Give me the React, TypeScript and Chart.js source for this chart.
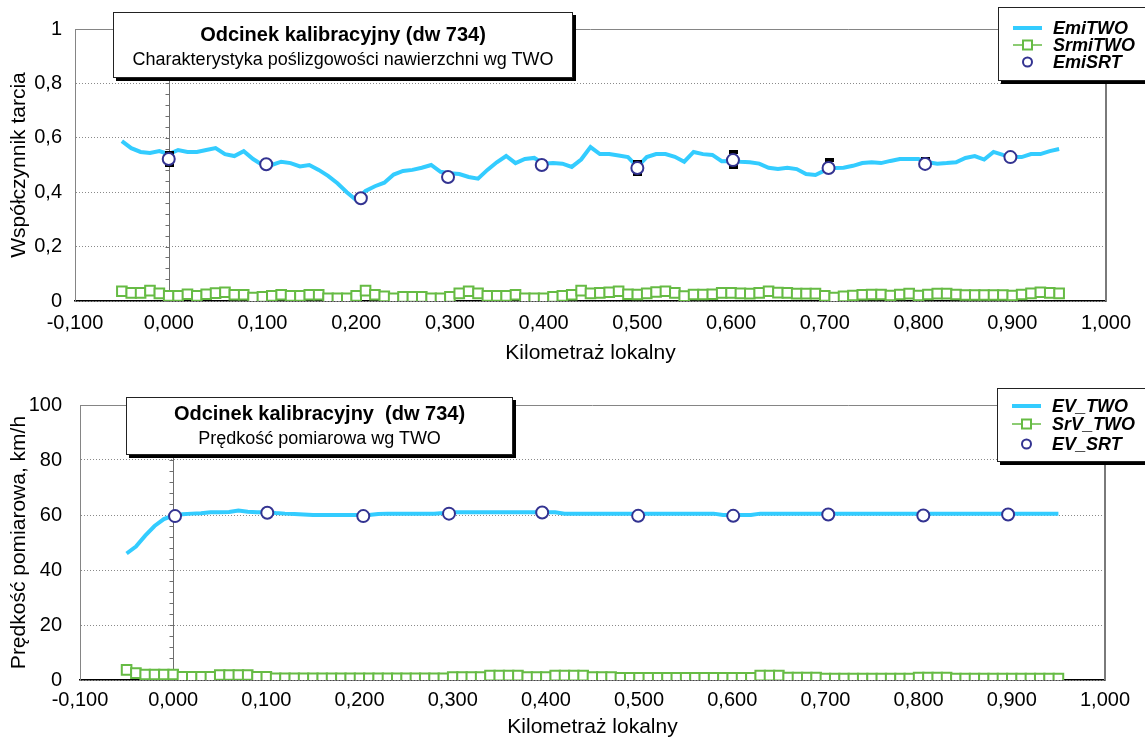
import React, { useEffect, useRef } from 'react';
import { Chart, registerables } from 'chart.js';
Chart.register(...registerables);

const FONT = "'Liberation Sans', Arial, Helvetica, sans-serif";
const CYAN = '#33CCFF';
const GREEN = '#66BB44';
const NAVY = '#333391';

// ---------- data ----------
const km = [
  -0.05, -0.04, -0.03, -0.02, -0.01, 0.0, 0.01, 0.02, 0.03, 0.04,
  0.05, 0.06, 0.07, 0.08, 0.09, 0.1, 0.11, 0.12, 0.13, 0.14,
  0.15, 0.16, 0.17, 0.18, 0.19, 0.2, 0.21, 0.22, 0.23, 0.24,
  0.25, 0.26, 0.27, 0.28, 0.29, 0.3, 0.31, 0.32, 0.33, 0.34,
  0.35, 0.36, 0.37, 0.38, 0.39, 0.4, 0.41, 0.42, 0.43, 0.44,
  0.45, 0.46, 0.47, 0.48, 0.49, 0.5, 0.51, 0.52, 0.53, 0.54,
  0.55, 0.56, 0.57, 0.58, 0.59, 0.6, 0.61, 0.62, 0.63, 0.64,
  0.65, 0.66, 0.67, 0.68, 0.69, 0.7, 0.71, 0.72, 0.73, 0.74,
  0.75, 0.76, 0.77, 0.78, 0.79, 0.8, 0.81, 0.82, 0.83, 0.84,
  0.85, 0.86, 0.87, 0.88, 0.89, 0.9, 0.91, 0.92, 0.93, 0.94,
  0.95,
];

const emiTWO = [
  0.588, 0.562, 0.548, 0.544, 0.551, 0.540, 0.555, 0.548, 0.548, 0.555,
  0.562, 0.540, 0.533, 0.551, 0.522, 0.500, 0.500, 0.512, 0.507, 0.495,
  0.500, 0.482, 0.460, 0.433, 0.400, 0.371, 0.405, 0.422, 0.435, 0.465,
  0.478, 0.482, 0.490, 0.500, 0.475, 0.470, 0.467, 0.456, 0.450, 0.482,
  0.510, 0.533, 0.507, 0.522, 0.526, 0.505, 0.507, 0.505, 0.493, 0.520,
  0.566, 0.540, 0.540, 0.535, 0.529, 0.493, 0.529, 0.540, 0.540, 0.530,
  0.512, 0.548, 0.540, 0.537, 0.514, 0.515, 0.512, 0.510, 0.505, 0.490,
  0.485, 0.490, 0.485, 0.467, 0.463, 0.480, 0.489, 0.490, 0.497, 0.507,
  0.510, 0.507, 0.515, 0.522, 0.522, 0.522, 0.510, 0.505, 0.507, 0.510,
  0.526, 0.533, 0.520, 0.548, 0.537, 0.529, 0.529, 0.540, 0.540, 0.551,
  0.559,
];

const srmiTWO = [
  0.036, 0.030, 0.030, 0.038, 0.028, 0.019, 0.019, 0.025, 0.019, 0.025,
  0.029, 0.032, 0.023, 0.023, 0.013, 0.015, 0.019, 0.023, 0.019, 0.019,
  0.023, 0.023, 0.010, 0.010, 0.010, 0.019, 0.038, 0.023, 0.017, 0.010,
  0.015, 0.015, 0.015, 0.010, 0.010, 0.015, 0.028, 0.036, 0.028, 0.019,
  0.019, 0.019, 0.023, 0.010, 0.010, 0.010, 0.015, 0.019, 0.023, 0.038,
  0.028, 0.030, 0.032, 0.036, 0.025, 0.024, 0.028, 0.033, 0.036, 0.030,
  0.018, 0.024, 0.024, 0.025, 0.030, 0.030, 0.028, 0.027, 0.030, 0.036,
  0.031, 0.030, 0.027, 0.027, 0.027, 0.019, 0.013, 0.017, 0.020, 0.023,
  0.024, 0.024, 0.020, 0.024, 0.027, 0.020, 0.024, 0.027, 0.027, 0.024,
  0.022, 0.022, 0.022, 0.022, 0.022, 0.020, 0.024, 0.028, 0.032, 0.030,
  0.028,
];

const kmSRT = [0.0, 0.104, 0.205, 0.298, 0.398, 0.5, 0.602, 0.704, 0.807, 0.898];
const emiSRT = [0.522, 0.503, 0.378, 0.456, 0.5, 0.489, 0.518, 0.489, 0.504, 0.529];
const emiSRTmax = [0.545, 0.51, 0.385, 0.465, 0.51, 0.511, 0.548, 0.518, 0.522, 0.535];
const emiSRTmin = [0.5, 0.495, 0.37, 0.45, 0.49, 0.467, 0.493, 0.48, 0.495, 0.52];

const evTWO = [
  46, 48.5, 52.5, 56, 58.5, 59.8, 60.3, 60.5, 60.6, 61,
  61, 61.1, 61.6, 61.2, 61, 61, 60.7, 60.5, 60.4, 60.2,
  60, 60, 60, 60, 60, 60, 60, 60.4, 60.5, 60.5,
  60.5, 60.5, 60.5, 60.5, 60.7, 61, 61, 61, 61, 61,
  61, 61, 61, 61, 61, 61, 61, 60.5, 60.5, 60.5,
  60.5, 60.5, 60.5, 60.5, 60.5, 60.5, 60.5, 60.5, 60.5, 60.5,
  60.5, 60.5, 60.5, 60.5, 60, 60, 60, 60, 60.5, 60.5,
  60.5, 60.5, 60.5, 60.5, 60.5, 60.5, 60.5, 60.5, 60.5, 60.5,
  60.5, 60.5, 60.5, 60.5, 60.5, 60.5, 60.5, 60.5, 60.5, 60.5,
  60.5, 60.5, 60.5, 60.5, 60.5, 60.5, 60.5, 60.5, 60.5, 60.5,
  60.5,
];

const srvTWO = [
  3.7, 2.5, 2.0, 2.0, 2.0, 2.0, 1.2, 1.2, 1.2, 1.2,
  1.8, 1.8, 1.8, 1.8, 1.2, 1.2, 0.6, 0.6, 0.6, 0.6,
  0.6, 0.6, 0.6, 0.6, 0.6, 0.6, 0.6, 0.6, 0.6, 0.6,
  0.6, 0.6, 0.6, 0.6, 0.6, 1.1, 1.1, 1.1, 1.1, 1.6,
  1.6, 1.6, 1.6, 1.1, 1.1, 1.1, 1.6, 1.6, 1.6, 1.6,
  1.1, 1.1, 1.1, 0.8, 0.8, 0.8, 0.8, 0.8, 0.8, 0.8,
  0.8, 0.8, 0.8, 0.8, 0.8, 0.8, 0.8, 0.8, 1.6, 1.6,
  1.6, 0.9, 0.9, 0.9, 0.9, 0.5, 0.5, 0.5, 0.5, 0.5,
  0.5, 0.5, 0.5, 0.5, 0.5, 0.9, 0.9, 0.9, 0.9, 0.5,
  0.5, 0.5, 0.5, 0.5, 0.5, 0.5, 0.5, 0.5, 0.5, 0.5,
  0.5,
];

const kmEvSRT = [0.002, 0.101, 0.204, 0.296, 0.396, 0.499, 0.601, 0.703, 0.805, 0.896];
const evSRT = [59.6, 60.8, 59.6, 60.5, 60.9, 59.7, 59.7, 60.2, 59.8, 60.2];

const xRange = [-0.1, 1.0];
const xStep = 0.1;

// ---------- helpers ----------
function fmtKm(v: number) {
  let r = Math.round(v * 1000) / 1000;
  if (Math.abs(r) < 1e-9) r = 0;
  return r.toFixed(3).replace('.', ',');
}

type Panel = {
  names: string[];
  line: number[];
  squares: number[];
  srtX: number[];
  srtY: number[];
  errMax?: number[];
  errMin?: number[];
  yMax: number;
  yStep: number;
  minorStep: number;
  yFmt: (v: number) => string;
  yTitle: string;
  canvasH: number;
  plotTop: number;
  plotBottom: number;
  plotLeft: number;
  plotRight: number;
  yTickPad: number;
  xTickPad: number;
  xTitlePad: number;
  yTitlePad: number;
};

function makeConfig(p: Panel): any {
  const lineData = km.map((x, i) => ({ x, y: p.line[i] }));
  const sqData = km.map((x, i) => ({ x, y: p.squares[i] }));
  const srtData = p.srtX.map((x, i) => ({ x, y: p.srtY[i] }));

  const framePlugin = {
    id: 'frame',
    beforeDatasetsDraw(chart: any) {
      const { ctx, chartArea: a, scales } = chart;
      ctx.save();
      ctx.strokeStyle = '#858585';
      ctx.lineWidth = 1;
      ctx.beginPath();
      ctx.moveTo(a.left, Math.round(a.top) + 0.5);
      ctx.lineTo(a.right, Math.round(a.top) + 0.5);
      ctx.stroke();
      ctx.lineWidth = 2;
      ctx.strokeStyle = '#7a7a7a';
      ctx.beginPath();
      ctx.moveTo(Math.round(a.right), a.top);
      ctx.lineTo(Math.round(a.right), a.bottom);
      ctx.stroke();
      const x0 = Math.round(scales.x.getPixelForValue(0)) + 0.5;
      ctx.lineWidth = 1;
      ctx.strokeStyle = '#6e6e6e';
      ctx.beginPath();
      ctx.moveTo(x0, a.top);
      ctx.lineTo(x0, a.bottom);
      const n = Math.round(p.yMax / p.minorStep);
      for (let k = 0; k <= n; k++) {
        const y = Math.round(scales.y.getPixelForValue(k * p.minorStep)) + 0.5;
        ctx.moveTo(x0 - 4, y);
        ctx.lineTo(x0, y);
      }
      ctx.stroke();
      ctx.restore();
    },
  };

  const errPlugin = {
    id: 'errbars',
    afterDatasetDraw(chart: any, args: any) {
      if (args.index !== 0 || !p.errMax || !p.errMin) return;
      const { ctx, scales } = chart;
      ctx.save();
      ctx.fillStyle = '#000';
      ctx.strokeStyle = '#000';
      ctx.lineWidth = 1;
      for (let i = 0; i < p.srtX.length; i++) {
        const x = scales.x.getPixelForValue(p.srtX[i]);
        const yh = scales.y.getPixelForValue(p.errMax[i]);
        const yl = scales.y.getPixelForValue(p.errMin[i]);
        ctx.beginPath();
        ctx.moveTo(Math.round(x) + 0.5, yh);
        ctx.lineTo(Math.round(x) + 0.5, yl);
        ctx.stroke();
        ctx.fillRect(Math.round(x) - 4, Math.round(yh) - 2, 9, 4);
        ctx.fillRect(Math.round(x) - 4, Math.round(yl) - 2, 9, 4);
      }
      ctx.restore();
    },
  };

  return {
    type: 'line',
    data: {
      datasets: [
        {
          label: p.names[0],
          data: lineData,
          borderColor: CYAN,
          borderWidth: 4,
          pointRadius: 0,
          tension: 0,
          fill: false,
          order: 3,
        },
        {
          label: p.names[1],
          data: sqData,
          borderColor: GREEN,
          borderWidth: 1.5,
          pointStyle: 'rect',
          pointRadius: 6.8,
          pointBorderWidth: 2,
          pointBorderColor: GREEN,
          pointBackgroundColor: '#ffffff',
          tension: 0,
          fill: false,
          order: 2,
        },
        {
          label: p.names[2],
          data: srtData,
          showLine: false,
          pointStyle: 'circle',
          pointRadius: 6,
          pointBorderWidth: 2,
          pointBorderColor: NAVY,
          pointBackgroundColor: '#ffffff',
          order: 1,
        },
      ],
    },
    options: {
      responsive: false,
      maintainAspectRatio: false,
      animation: false,
      events: [],
      layout: { padding: { top: p.plotTop, right: 1145 - p.plotRight, left: 0, bottom: 0 } },
      scales: {
        x: {
          type: 'linear',
          min: xRange[0],
          max: xRange[1],
          ticks: {
            stepSize: xStep,
            callback: (v: any) => fmtKm(Number(v)),
            font: { family: FONT, size: 20 },
            color: '#000',
            padding: p.xTickPad,
            maxRotation: 0,
            autoSkip: false,
          },
          grid: { display: false, drawTicks: false },
          border: { color: '#000', width: 1.5 },
          title: {
            display: true,
            text: 'Kilometraż lokalny',
            font: { family: FONT, size: 21 },
            color: '#000',
            padding: { top: 0, bottom: p.xTitlePad },
          },
          afterFit: (s: any) => {
            s.height = p.canvasH - p.plotBottom;
          },
        },
        y: {
          type: 'linear',
          min: 0,
          max: p.yMax,
          ticks: {
            stepSize: p.yStep,
            callback: (v: any) => p.yFmt(Number(v)),
            font: { family: FONT, size: 20 },
            color: '#000',
            padding: p.yTickPad,
          },
          grid: { color: '#8a8a8a', lineWidth: 1, drawTicks: false },
          border: { color: '#858585', width: 1, dash: [1, 2] },
          title: {
            display: true,
            text: p.yTitle,
            font: { family: FONT, size: 21 },
            color: '#000',
            padding: { top: p.yTitlePad, bottom: 0 },
          },
          afterFit: (s: any) => {
            s.width = p.plotLeft;
          },
        },
      },
      plugins: { legend: { display: false }, tooltip: { enabled: false }, title: { display: false } },
    },
    plugins: [framePlugin, errPlugin],
  };
}

const topPanel: Panel = {
  names: ['EmiTWO', 'SrmiTWO', 'EmiSRT'],
  line: emiTWO,
  squares: srmiTWO,
  srtX: kmSRT,
  srtY: emiSRT,
  errMax: emiSRTmax,
  errMin: emiSRTmin,
  yMax: 1,
  yStep: 0.2,
  minorStep: 0.04,
  yFmt: (v) => String(Math.round(v * 10) / 10).replace('.', ','),
  yTitle: 'Współczynnik tarcia',
  canvasH: 370,
  plotTop: 29,
  plotBottom: 301,
  plotLeft: 75,
  plotRight: 1106,
  yTickPad: 13,
  xTickPad: 10,
  xTitlePad: 4,
  yTitlePad: 7,
};

const bottomPanel: Panel = {
  names: ['EV_TWO', 'SrV_TWO', 'EV_SRT'],
  line: evTWO,
  squares: srvTWO,
  srtX: kmEvSRT,
  srtY: evSRT,
  yMax: 100,
  yStep: 20,
  minorStep: 4,
  yFmt: (v) => String(Math.round(v)),
  yTitle: 'Prędkość pomiarowa, km/h',
  canvasH: 370,
  plotTop: 35,
  plotBottom: 310,
  plotLeft: 80,
  plotRight: 1105,
  yTickPad: 18,
  xTickPad: 8,
  xTitlePad: 0,
  yTitlePad: 7,
};

function ChartCanvas({ top, panel }: { top: number; panel: Panel }) {
  const ref = useRef<HTMLCanvasElement>(null);
  useEffect(() => {
    const chart = new Chart(ref.current as HTMLCanvasElement, makeConfig(panel));
    return () => chart.destroy();
  }, [panel]);
  return (
    <canvas
      ref={ref}
      width={1145}
      height={panel.canvasH}
      style={{ position: 'absolute', left: 0, top, width: 1145, height: panel.canvasH, display: 'block' }}
    />
  );
}

function TitleBox({ left, top, width, height, title, sub, titleY, subY }: any) {
  return (
    <div
      style={{
        position: 'absolute',
        left,
        top,
        width,
        height,
        boxSizing: 'border-box',
        border: '1px solid #222',
        background: '#fff',
        boxShadow: '3px 3px 0 #000',
        fontFamily: FONT,
        color: '#000',
      }}
    >
      <div style={{ position: 'absolute', left: 0, right: 0, top: titleY - 12, height: 24, lineHeight: '24px', textAlign: 'center', fontWeight: 'bold', fontSize: 20, whiteSpace: 'pre' }}>
        {title}
      </div>
      <div style={{ position: 'absolute', left: 0, right: 0, top: subY - 11, height: 22, lineHeight: '22px', textAlign: 'center', fontSize: 18, whiteSpace: 'pre' }}>
        {sub}
      </div>
    </div>
  );
}

function LegendBox({ left, top, height, names, rows }: any) {
  const kinds = ['line', 'sq', 'circ'];
  return (
    <div
      style={{
        position: 'absolute',
        left,
        top,
        width: 1160 - left,
        height,
        boxSizing: 'border-box',
        border: '1px solid #222',
        background: '#fff',
        boxShadow: '3px 3px 0 #000',
        fontFamily: FONT,
      }}
    >
      {names.map((n: string, i: number) => {
        const y = rows[i] - top - 1;
        const k = kinds[i];
        return (
          <React.Fragment key={n}>
            <svg style={{ position: 'absolute', left: 12, top: y - 8 }} width={34} height={16}>
              {k === 'line' && <line x1={2} y1={8} x2={31} y2={8} stroke={CYAN} strokeWidth={4} />}
              {k === 'sq' && (
                <>
                  <line x1={2} y1={8} x2={31} y2={8} stroke={GREEN} strokeWidth={1.5} />
                  <rect x={12} y={3.5} width={9} height={9} fill="#fff" stroke={GREEN} strokeWidth={2} />
                </>
              )}
              {k === 'circ' && <circle cx={16.5} cy={8} r={4.5} fill="#fff" stroke={NAVY} strokeWidth={2} />}
            </svg>
            <div
              style={{
                position: 'absolute',
                left: 54,
                top: y - 11,
                height: 22,
                lineHeight: '22px',
                fontSize: 18,
                fontWeight: 'bold',
                fontStyle: 'italic',
                color: '#000',
                whiteSpace: 'pre',
              }}
            >
              {n}
            </div>
          </React.Fragment>
        );
      })}
    </div>
  );
}

export default function App() {
  return (
    <div style={{ position: 'absolute', left: 0, top: 0, width: 1145, height: 740, background: '#fff', overflow: 'hidden' }}>
      <ChartCanvas top={0} panel={topPanel} />
      <ChartCanvas top={370} panel={bottomPanel} />
      <TitleBox
        left={113}
        top={12}
        width={460}
        height={66}
        title="Odcinek kalibracyjny (dw 734)"
        sub="Charakterystyka poślizgowości nawierzchni wg TWO"
        titleY={21}
        subY={46}
      />
      <TitleBox
        left={126}
        top={397}
        width={387}
        height={58}
        title={'Odcinek kalibracyjny  (dw 734)'}
        sub="Prędkość pomiarowa wg TWO"
        titleY={15}
        subY={40}
      />
      <LegendBox left={998} top={7} height={74} names={topPanel.names} rows={[28, 45, 62]} />
      <LegendBox left={997} top={388} height={74} names={bottomPanel.names} rows={[406, 424, 444]} />
    </div>
  );
}
